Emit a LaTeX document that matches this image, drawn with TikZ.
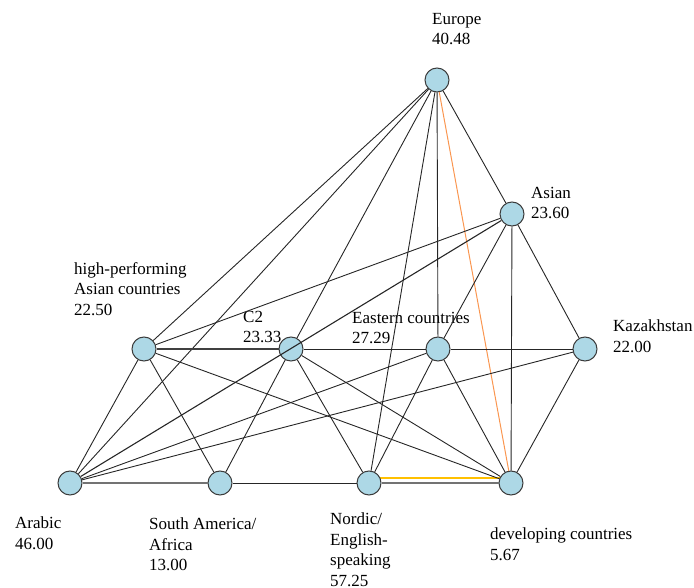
\documentclass[tikz,border=0pt]{standalone}
\usepackage{fontspec}
\setmainfont{Liberation Serif}
\usetikzlibrary{backgrounds}
\definecolor{nodefill}{RGB}{173,216,230}
\definecolor{nodeline}{RGB}{60,60,60}
\definecolor{edgeorange}{RGB}{250,150,80}
\definecolor{edgeyellow}{RGB}{255,192,0}
\tikzset{
  vert/.style={circle, minimum size=24pt, inner sep=0pt, fill=nodefill, draw=nodeline, line width=1pt},
  lab/.style={anchor=north west, inner sep=0pt, align=left, font=\fontsize{17}{20.5}\selectfont},
  edge/.style={draw=black!85, line width=0.9pt},
  heavy/.style={draw=black!55, line width=2.4pt},
  hpaedge/.style={draw=black!75, line width=1.8pt},
  orangeedge/.style={draw=edgeorange, line width=1pt},
  yellowedge/.style={draw=edgeyellow, line width=1.5pt}
}
\begin{document}
\begin{tikzpicture}[x=1pt,y=-1pt]
\useasboundingbox (0,0) rectangle (694,588);
% vertices
\node[vert] (Eu) at (437,80) {};
\node[vert] (As) at (512,214) {};
\node[vert] (HPA) at (144,349) {};
\node[vert] (C2) at (291,349) {};
\node[vert] (Ea) at (438,349) {};
\node[vert] (Kz) at (585,349) {};
\node[vert] (Ar) at (70,483) {};
\node[vert] (SA) at (220,483) {};
\node[vert] (No) at (369,483) {};
\node[vert] (De) at (511,483) {};
% labels
\node[lab] (lEu) at (432,13) {Europe\\40.48};
\node[lab] (lAs) at (531,187) {Asian\\23.60};
\node[lab] (lKz) at (613,320) {Kazakhstan\\22.00};
\node[lab] (lHPA) at (74,262) {high-performing\\Asian countries\\22.50};
\node[lab] (lC2) at (243,311) {C2\\23.33};
\node[lab] (lEa) at (352,312) {Eastern countries\\27.29};
\node[lab] (lAr) at (15,517) {Arabic\\46.00};
\node[lab] (lSA) at (149,518) {South America/\\Africa\\13.00};
\node[lab] (lNo) at (330,513) {Nordic/\\English-\\speaking\\57.25};
\node[lab] (lDe) at (490,528) {developing countries\\5.67};
% edges behind the nodes
\begin{pgfonlayer}{background}
\draw[yellowedge] ([yshift=5pt]No.center) -- ([yshift=5pt]De.center);
\end{pgfonlayer}
\draw[edge] (Eu) -- (HPA);
\draw[edge] (Eu) -- (Ar);
\draw[edge] (Eu) -- (C2);
\draw[edge] (Eu) -- (No);
\draw[edge] (Eu) -- (Ea);
\draw[edge] (Eu) -- (As);
\draw[orangeedge] (Eu) -- (De);
\draw[edge] (As) -- (HPA);
\draw[edge] (As) -- (Ea);
\draw[edge] (As) -- (De);
\draw[edge] (As) -- (Kz);
\draw[hpaedge] (HPA) -- (C2);
\draw[edge] (HPA) -- (Ar);
\draw[edge] (HPA) -- (SA);
\draw[edge] (HPA) -- (De);
\draw[edge] (C2) -- (Ea);
\draw[edge] (C2) -- (SA);
\draw[edge] (C2) -- (No);
\draw[edge] (C2) -- (De);
\draw[edge] (Ea) -- (Kz);
\draw[edge] (Ea) -- (Ar);
\draw[edge] (Ea) -- (No);
\draw[edge] (Ea) -- (De);
\draw[edge] (Kz) -- (Ar);
\draw[edge] (Kz) -- (De);
\draw[heavy] (Ar) -- (SA);
\draw[edge] (SA) -- (No);
\draw[heavy] (No) -- (De);
\draw[edge, line width=1.1pt] (As) -- (Ar);
\end{tikzpicture}
\end{document}
